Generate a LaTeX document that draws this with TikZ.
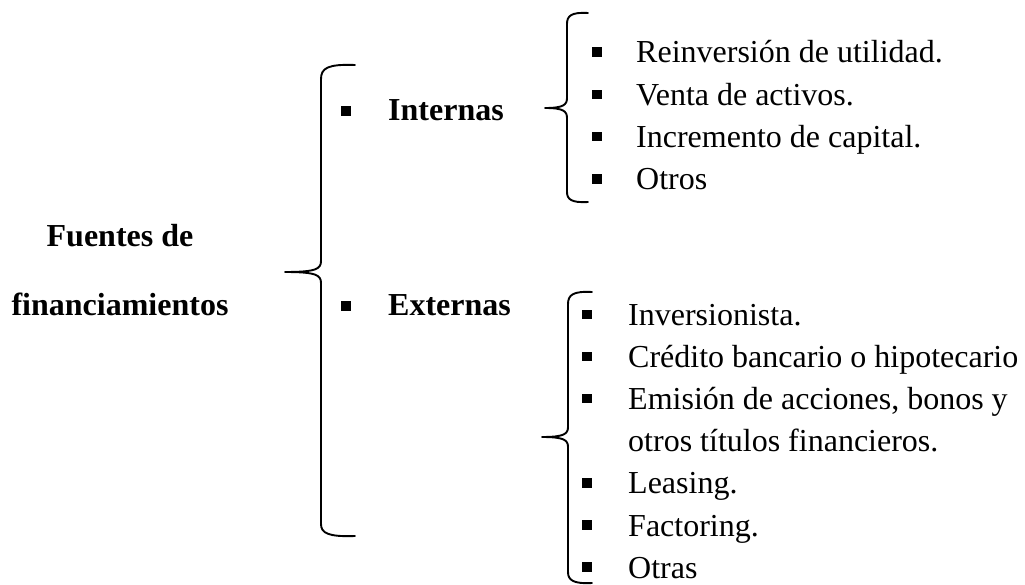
\documentclass[tikz,border=0pt]{standalone}
\usepackage{fontspec}
\setmainfont{Liberation Serif}
\begin{document}
\begin{tikzpicture}[x=1pt,y=-1pt,
  txt/.style={anchor=base west, inner sep=0pt, font=\fontsize{32}{38}\selectfont},
  btxt/.style={anchor=base west, inner sep=0pt, font=\fontsize{32}{38}\selectfont\bfseries},
  ctxt/.style={anchor=base, inner sep=0pt, font=\fontsize{32}{38}\selectfont\bfseries},
  bul/.style={fill=black, draw=none, minimum size=9.5pt, inner sep=0pt},
  bracepath/.style={line width=1.9pt, line cap=round, line join=round}
]
\useasboundingbox (0,0) rectangle (1025,585);

% left title
\node[ctxt] (t1) at (120,247) {Fuentes de};
\node[ctxt] (t2) at (120,315) {financiamientos};

% big brace
\draw[bracepath] (355,65) .. controls (328,64) and (321,68) .. (321,79)
  -- (321,261) .. controls (321,269) and (316,272) .. (285,272)
  .. controls (316,272) and (321,275) .. (321,283)
  -- (321,524) .. controls (321,533) and (328,537) .. (355,536);

% level 1
\node[bul] (bint) at (346,111) {};
\node[btxt] (int) at (388,121) {Internas};
\node[bul] (bext) at (346,306) {};
\node[btxt] (ext) at (388,316) {Externas};

% brace internas
\draw[bracepath] (588,13) .. controls (571,12) and (567,16) .. (567,24)
  -- (567,98) .. controls (567,105) and (563,108) .. (545,108)
  .. controls (563,108) and (567,111) .. (567,118)
  -- (567,192) .. controls (567,199) and (571,203) .. (588,202);

% brace externas
\draw[bracepath] (592,292) .. controls (573,291) and (568,295) .. (568,304)
  -- (568,427) .. controls (568,434) and (564,437) .. (542,437)
  .. controls (564,437) and (568,440) .. (568,447)
  -- (568,572) .. controls (568,580) and (573,584) .. (592,583);

% internas items
\node[bul] (bi1) at (597,52) {};
\node[txt] (i1) at (636,63) {Reinversión de utilidad.};
\node[bul] (bi2) at (597,94.3) {};
\node[txt] (i2) at (636,105.3) {Venta de activos.};
\node[bul] (bi3) at (597,136.6) {};
\node[txt] (i3) at (636,147.6) {Incremento de capital.};
\node[bul] (bi4) at (597,178.9) {};
\node[txt] (i4) at (636,189.9) {Otros};

% externas items
\node[bul] (be1) at (587,314.5) {};
\node[txt] (e1) at (628,325.5) {Inversionista.};
\node[bul] (be2) at (587,356.6) {};
\node[txt] (e2) at (628,367.6) {Crédito bancario o hipotecario};
\node[bul] (be3) at (587,398.7) {};
\node[txt] (e3) at (628,409.7) {Emisión de acciones, bonos y};
\node[txt] (e3b) at (628,451.8) {otros títulos financieros.};
\node[bul] (be4) at (587,482.9) {};
\node[txt] (e4) at (628,493.9) {Leasing.};
\node[bul] (be5) at (587,525) {};
\node[txt] (e5) at (628,536) {Factoring.};
\node[bul] (be6) at (587,567.1) {};
\node[txt] (e6) at (628,578.1) {Otras};
\end{tikzpicture}
\end{document}
